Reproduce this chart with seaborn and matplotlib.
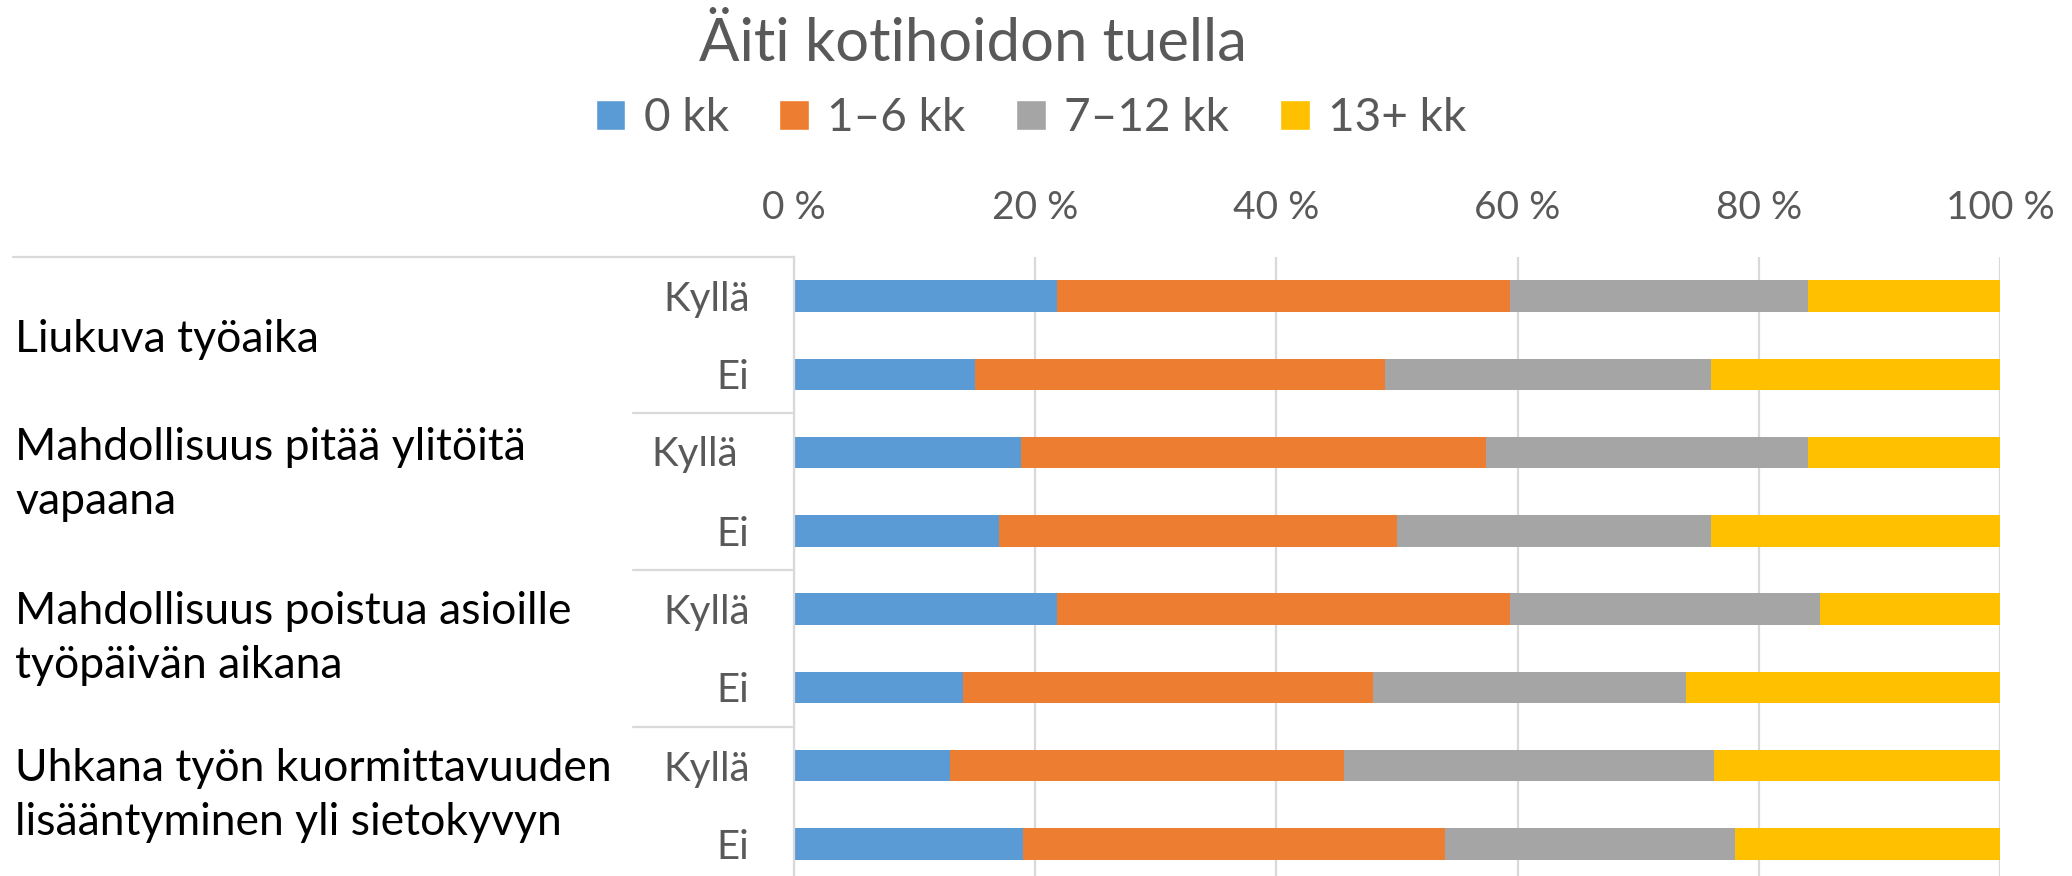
import pandas as pd
import seaborn as sns
from matplotlib import pyplot as plt
from matplotlib.patches import Patch
from matplotlib.transforms import blended_transform_factory, ScaledTranslation

# data (percent of respondents)
groups = ['Liukuva työaika',
          'Mahdollisuus pitää ylitöitä\nvapaana',
          'Mahdollisuus poistua asioille\ntyöpäivän aikana',
          'Uhkana työn kuormittavuuden\nlisääntyminen yli sietokyvyn']
answers = ['Kyllä', 'Ei']
series = ['0 kk', '1–6 kk', '7–12 kk', '13+ kk']
v_0kk = [21.8, 15.0, 18.8, 17.0, 21.8, 14.0, 12.9, 19.0]
v_1_6kk = [37.6, 34.0, 38.6, 33.0, 37.6, 34.0, 32.7, 35.0]
v_7_12kk = [24.7, 27.0, 26.7, 26.0, 25.7, 26.0, 30.7, 24.0]
v_13kk = [15.9, 24.0, 15.9, 24.0, 14.9, 26.0, 23.7, 22.0]
colors = ['#5B9BD5', '#ED7D31', '#A5A5A5', '#FFC000']

sns.set_style('white')
plt.rcParams['font.family'] = ['Lato', 'DejaVu Sans']
text_gray = '#595959'
grid_gray = '#D9D9D9'

rows = [f'{g}|{a}' for g in groups for a in answers]
df = pd.DataFrame({'row': rows, '0 kk': v_0kk, '1–6 kk': v_1_6kk,
                   '7–12 kk': v_7_12kk, '13+ kk': v_13kk})
# cumulative sums for stacking
cum = df[series].cumsum(axis=1)

fig = plt.figure(figsize=(20.72, 8.76), dpi=100)
ax = fig.add_axes([794 / 2072, -7 / 876, 1206 / 2072, 626 / 876])

# draw from the full stack down so smaller stacks sit on top
for s, c in reversed(list(zip(series, colors))):
    sns.barplot(x=cum[s], y=df['row'], orient='h', color=c, width=0.4,
                linewidth=0, saturation=1, ax=ax, order=rows)

ax.set_xlim(0, 100)
ax.set_ylim(7.5, -0.5)
ax.set_xticks([0, 20, 40, 60, 80, 100])
ax.set_xticklabels([f'{t} %' for t in [0, 20, 40, 60, 80, 100]])
ax.xaxis.tick_top()
ax.tick_params(axis='x', length=0, pad=22, labelsize=28, labelcolor=text_gray)
ax.tick_params(axis='y', length=0, pad=32, labelsize=29, labelcolor=text_gray)
ax.set_yticks(range(len(rows)))
ax.set_yticklabels([r.split('|')[1] for r in rows])
ax.set_xlabel('')
ax.set_ylabel('')
ax.grid(axis='x', color=grid_gray, linewidth=1.6)
ax.set_axisbelow(True)
for side in ['top', 'right', 'bottom']:
    ax.spines[side].set_visible(False)
ax.spines['left'].set_color(grid_gray)
ax.spines['left'].set_linewidth(1.6)

# the second "Kyllä" sits a little further left in the original
lab = ax.get_yticklabels()[2]
lab.set_transform(lab.get_transform() + ScaledTranslation(-0.12, 0.02, fig.dpi_scale_trans))

# group labels and separators on the left
tr = blended_transform_factory(fig.transFigure, ax.transData)
label_shift = [0.55, 0.28, 0.38, 0.38]
for i, g in enumerate(groups):
    ax.text(15 / 2072, 2 * i + label_shift[i], g, transform=tr, ha='left',
            va='center', fontsize=32, color='black', linespacing=1.4)
ax.plot([13 / 2072, 794 / 2072], [-0.5, -0.5], transform=tr, color=grid_gray,
        linewidth=1.6, clip_on=False)
for yy in [1.5, 3.5, 5.5]:
    ax.plot([633 / 2072, 794 / 2072], [yy, yy], transform=tr, color=grid_gray,
            linewidth=1.6, clip_on=False)

fig.text(973 / 2072, 1 - 44 / 876, 'Äiti kotihoidon tuella', ha='center',
         va='center', fontsize=43, color=text_gray)
handles = [Patch(facecolor=c, label=s) for s, c in zip(series, colors)]
fig.legend(handles=handles, loc='center', bbox_to_anchor=(1031 / 2072, 1 - 118 / 876),
           ncol=4, frameon=False, fontsize=33, labelcolor=text_gray,
           handlelength=0.65, handleheight=0.65, handletextpad=0.4,
           columnspacing=1.1)

fig.savefig('out.png', dpi=100)
